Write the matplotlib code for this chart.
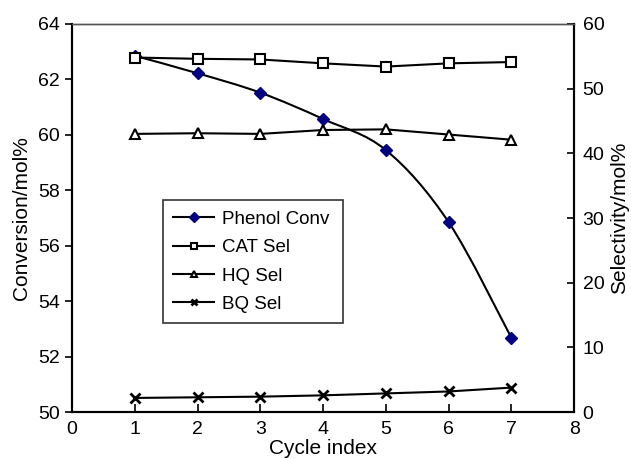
import matplotlib
matplotlib.use('Agg')
import matplotlib.pyplot as plt
from matplotlib.path import Path
from matplotlib.patches import PathPatch
from matplotlib.lines import Line2D

plt.rcParams['font.family'] = ['Liberation Sans', 'DejaVu Sans']

# Adatok
ciklus = [1, 2, 3, 4, 5, 6, 7]
phenol_conv = [62.85, 62.22, 61.52, 60.57, 59.45, 56.85, 52.68]
cat_sel = [54.8, 54.6, 54.5, 53.9, 53.4, 53.9, 54.1]
hq_sel = [43.0, 43.1, 43.0, 43.6, 43.7, 42.9, 42.1]
bq_sel = [2.2, 2.3, 2.4, 2.6, 2.9, 3.2, 3.8]


def smooth_path(xs, ys):
    # Catmull-Rom jellegű simított görbe Bezier szakaszokból
    verts = [(xs[0], ys[0])]
    codes = [Path.MOVETO]
    n = len(xs)
    for i in range(n - 1):
        x0, y0 = (xs[i - 1], ys[i - 1]) if i > 0 else (xs[i], ys[i])
        x1, y1 = xs[i], ys[i]
        x2, y2 = xs[i + 1], ys[i + 1]
        x3, y3 = (xs[i + 2], ys[i + 2]) if i + 2 < n else (x2, y2)
        c1 = (x1 + (x2 - x0) / 6, y1 + (y2 - y0) / 6)
        c2 = (x2 - (x3 - x1) / 6, y2 - (y3 - y1) / 6)
        verts += [c1, c2, (x2, y2)]
        codes += [Path.CURVE4] * 3
    return Path(verts, codes)


fig = plt.figure(figsize=(6.31, 4.59), dpi=100)
ax = fig.add_axes([0.114, 0.102, 0.796, 0.846])
ax2 = ax.twinx()

# Fenol konverzió - simított vonal
ax.add_patch(PathPatch(smooth_path(ciklus, phenol_conv), facecolor='none',
                       edgecolor='black', linewidth=1.5, zorder=3))
ax.plot(ciklus, phenol_conv, linestyle='None', marker='D', color='#000080',
        markersize=6, zorder=4)

# Szelektivitások
ax2.plot(ciklus, cat_sel, color='black', linewidth=1.5, marker='s', markersize=7,
         markerfacecolor='white', markeredgewidth=1.5)
ax2.plot(ciklus, hq_sel, color='black', linewidth=1.5, marker='^', markersize=7,
         markerfacecolor='white', markeredgewidth=1.5)
ax2.plot(ciklus, bq_sel, color='black', linewidth=1.5, marker='x', markersize=7,
         markeredgewidth=2)

ax.set_xlim(0, 8)
ax.set_ylim(50, 64)
ax2.set_ylim(0, 60)
ax.set_xticks(range(0, 9))
ax.set_yticks(range(50, 65, 2))
ax2.set_yticks(range(0, 61, 10))

ax.tick_params(axis='x', direction='in', length=6, labelsize=14, width=1.2, pad=6)
ax.tick_params(axis='y', direction='out', length=5, labelsize=14, width=1.2)
ax2.tick_params(axis='y', direction='in', length=5, labelsize=14, width=1.2, pad=6)
for a in (ax, ax2):
    for s in ['left', 'bottom', 'right']:
        a.spines[s].set_linewidth(1.5)
    a.spines['top'].set_linewidth(1.0)
    a.spines['top'].set_color('#555555')

ax.set_xlabel('Cycle index', fontsize=15, labelpad=1)
ax.set_ylabel('Conversion/mol%', fontsize=15, labelpad=5)
ax2.set_ylabel('Selectivity/mol%', fontsize=15, labelpad=4)

handles = [
    Line2D([], [], color='black', lw=1.5, marker='D', markersize=5,
           markerfacecolor='#000080', markeredgecolor='#000080'),
    Line2D([], [], color='black', lw=1.5, marker='s', markersize=5,
           markerfacecolor='white', markeredgewidth=1.5),
    Line2D([], [], color='black', lw=1.5, marker='^', markersize=5,
           markerfacecolor='white', markeredgewidth=1.5),
    Line2D([], [], color='black', lw=1.5, marker='x', markersize=5,
           markeredgewidth=2),
]
leg = ax2.legend(handles, ['Phenol Conv', 'CAT Sel', 'HQ Sel', 'BQ Sel'],
                 loc='lower left', bbox_to_anchor=(0.181, 0.229, 0.359, 0.309),
                 mode='expand', fontsize=13.5, fancybox=False, framealpha=1,
                 edgecolor='#333333', handlelength=2.2, handletextpad=0.4,
                 borderaxespad=0, labelspacing=0.6, borderpad=0.55)
leg.get_frame().set_linewidth(1.2)

fig.savefig('out.png', dpi=100)
